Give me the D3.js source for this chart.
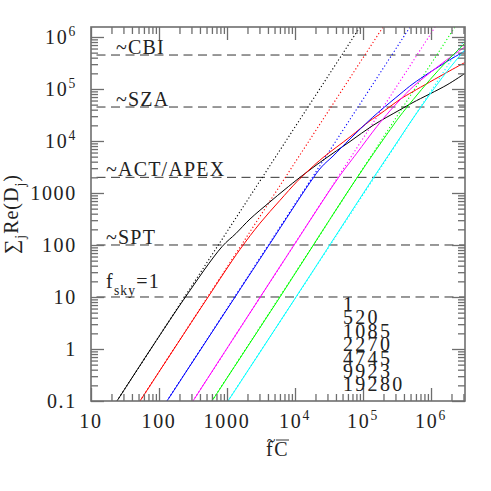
<!DOCTYPE html>
<html><head><meta charset="utf-8">
<script src="https://cdn.jsdelivr.net/npm/d3@7"></script>
<style>body{margin:0;background:#fff}</style>
</head><body>
<svg id="chart" width="491" height="491"></svg>
<script>
// ---- data ----
const xDomain = [10, 3.16e6];
const yDomain = [0.1, 1.556e6];
const xMajorTicks = [10, 100, 1000, 1e4, 1e5, 1e6];
const xTickLabels = ["10", "100", "1000", "10^{4}", "10^{5}", "10^{6}"];
const yMajorTicks = [0.1, 1, 10, 100, 1000, 1e4, 1e5, 1e6];
const yTickLabels = ["0.1", "1", "10", "100", "1000", "10^{4}", "10^{5}", "10^{6}"];

const refLevels = [4.5e5, 4.5e4, 2000, 100, 10];
const refLabels = ["~CBI", "~SZA", "~ACT/APEX", "~SPT", "f_{sky}=1"];

const legendLabels = ["1", "520", "1085", "2270", "4745", "9923", "19280"];

const curveNames = ["black", "red", "blue", "magenta", "green", "cyan"];
const curveColors = ["#000000", "#ff0000", "#0000ff", "#ff00ff", "#00ff00", "#00ffff"];

const solidBlack = [[24.1,0.1],[225,8.5],[845,93],[1350,166],[2180,316],[4290,676],[7130,1175],[11850,2000],[25800,4270],[64400,9770],[140000,19950],[350000,39800],[543000,55000],[1.72e6,120000],[3.16e6,200000]];
const solidRed = [[52.6,0.1],[508,9.3],[1550,82],[3060,263],[6020,724],[10700,1660],[16600,2880],[25800,4790],[64400,12000],[127000,24500],[178000,33100],[350000,63100],[543000,89100],[1.72e6,209000],[3.16e6,324000]];
const solidBlue = [[131,0.1],[4010,93],[16600,1585],[24500,3160],[36200,5130],[64400,10960],[127000,25700],[178000,38000],[350000,79400],[543000,126000],[1.72e6,339000],[3.16e6,537000]];
const solidMagenta = [[316,0.1],[8930,85],[42900,1920],[80700,5790],[159000,18800],[249000,38000],[350000,61700],[550000,112000],[1.70e6,363000],[3.16e6,646000]];
const solidGreen = [[601,0.1],[6010,10],[80700,1920],[296000,22400],[350000,30200],[550000,63100],[966000,151000],[1.70e6,339000],[3.16e6,759000]];
const solidCyan = [[1035,0.1],[10350,10],[134000,1740],[350000,11500],[491000,22400],[966000,79400],[1.70e6,214000],[3.16e6,575000]];

const dotBlack = [[24.1,0.1],[90300,1.556e6]];
const dotRed = [[52.6,0.1],[197000,1.556e6]];
const dotBlue = [[131,0.1],[491000,1.556e6]];
const dotMagenta = [[316,0.1],[1.15e6,1.556e6]];
const dotGreen = [[601,0.1],[2.25e6,1.556e6]];
const dotCyan = [[1035,0.1],[3.16e6,910000]];

const solidSeries = [solidBlack, solidRed, solidBlue, solidMagenta, solidGreen, solidCyan];
const dottedSeries = [dotBlack, dotRed, dotBlue, dotMagenta, dotGreen, dotCyan];

// ---- layout ----
const W = 491, H = 491;
const m = {left: 91, top: 27, right: 26, bottom: 90};
const FONT = "'Liberation Serif', 'Times New Roman', serif";
const FS = 20;
const TEXT = "#222";
const AX = "#6e6e6e";

const svg = d3.select("#chart");
svg.append("rect").attr("width", W).attr("height", H).attr("fill", "#fff");

const x = d3.scaleLog().domain(xDomain).range([m.left, W - m.right]);
const y = d3.scaleLog().domain(yDomain).range([H - m.bottom, m.top]);

function minorTicks(domain) {
  const out = [];
  const lo = Math.floor(Math.log10(domain[0])), hi = Math.ceil(Math.log10(domain[1]));
  for (let e = lo; e <= hi; e++) for (let k = 2; k <= 9; k++) {
    const v = k * Math.pow(10, e);
    if (v > domain[0] * 1.0001 && v < domain[1] * 0.9999) out.push(v);
  }
  return out;
}

// rich text: ^{..} superscript, _{..} subscript
function rich(sel, str, size) {
  const re = /([\^_])\{([^}]*)\}/g;
  let last = 0, mm, cur = 0;
  const add = (txt, target, fs) => {
    const t = sel.append("tspan").attr("dy", target - cur).text(txt);
    if (fs) t.attr("font-size", fs);
    cur = target;
  };
  while ((mm = re.exec(str))) {
    if (mm.index > last) add(str.slice(last, mm.index), 0);
    const target = mm[1] === "^" ? -0.42 * size : 0.36 * size;
    add(mm[2], target, size * 0.68);
    last = re.lastIndex;
  }
  if (last < str.length) add(str.slice(last), 0);
  else if (cur !== 0) add("", 0);
}

const clipId = "plotclip";
svg.append("clipPath").attr("id", clipId).append("rect")
  .attr("x", m.left).attr("y", m.top)
  .attr("width", W - m.left - m.right).attr("height", H - m.top - m.bottom);

// ---- reference dashed lines ----
const refG = svg.append("g");
refLevels.forEach((v, i) => {
  refG.append("line")
    .attr("x1", x(xDomain[0])).attr("x2", x(xDomain[1]))
    .attr("y1", y(v)).attr("y2", y(v))
    .attr("stroke", "#333").attr("stroke-width", 1)
    .attr("stroke-dasharray", "9,5.5").attr("stroke-dashoffset", 9);
  const lx = (i < 2) ? 116 : 106;
  const t = refG.append("text")
    .attr("x", lx).attr("y", y(v) - (i === 4 ? 9 : 1))
    .attr("font-family", FONT).attr("font-size", FS).attr("fill", TEXT)
    .attr("letter-spacing", 1.2);
  rich(t, refLabels[i], FS);
});

// ---- curves ----
const line = d3.line().x(d => x(d[0])).y(d => y(d[1])).curve(d3.curveCatmullRom.alpha(0.5));
const curveG = svg.append("g").attr("clip-path", `url(#${clipId})`);
dottedSeries.forEach((s, i) => {
  curveG.append("path").datum(s).attr("d", line)
    .attr("fill", "none").attr("stroke", curveColors[i])
    .attr("stroke-width", 1.1).attr("stroke-dasharray", "1.2,2.3");
});
solidSeries.forEach((s, i) => {
  curveG.append("path").datum(s).attr("d", line)
    .attr("fill", "none").attr("stroke", curveColors[i])
    .attr("stroke-width", 1);
});

// ---- axes ----
const xMinor = minorTicks(xDomain), yMinor = minorTicks(yDomain);
function styleAxis(g) {
  g.select(".domain").remove();
  g.selectAll(".tick line").attr("stroke", AX).attr("stroke-width", 1.3);
}
const pB = H - m.bottom, pT = m.top, pL = m.left, pR = W - m.right;

svg.append("g").attr("transform", `translate(0,${pB})`)
  .call(d3.axisBottom(x).tickValues(xMajorTicks).tickSize(-13).tickSizeOuter(0).tickFormat("")).call(styleAxis);
svg.append("g").attr("transform", `translate(0,${pB})`)
  .call(d3.axisBottom(x).tickValues(xMinor).tickSize(-7).tickSizeOuter(0).tickFormat("")).call(styleAxis);
svg.append("g").attr("transform", `translate(0,${pT})`)
  .call(d3.axisTop(x).tickValues(xMajorTicks).tickSize(-13).tickSizeOuter(0).tickFormat("")).call(styleAxis);
svg.append("g").attr("transform", `translate(0,${pT})`)
  .call(d3.axisTop(x).tickValues(xMinor).tickSize(-7).tickSizeOuter(0).tickFormat("")).call(styleAxis);
svg.append("g").attr("transform", `translate(${pL},0)`)
  .call(d3.axisLeft(y).tickValues(yMajorTicks).tickSize(-13).tickSizeOuter(0).tickFormat("")).call(styleAxis);
svg.append("g").attr("transform", `translate(${pL},0)`)
  .call(d3.axisLeft(y).tickValues(yMinor).tickSize(-7).tickSizeOuter(0).tickFormat("")).call(styleAxis);
svg.append("g").attr("transform", `translate(${pR},0)`)
  .call(d3.axisRight(y).tickValues(yMajorTicks).tickSize(-13).tickSizeOuter(0).tickFormat("")).call(styleAxis);
svg.append("g").attr("transform", `translate(${pR},0)`)
  .call(d3.axisRight(y).tickValues(yMinor).tickSize(-7).tickSizeOuter(0).tickFormat("")).call(styleAxis);

svg.append("rect").attr("x", pL).attr("y", pT)
  .attr("width", pR - pL).attr("height", pB - pT)
  .attr("fill", "none").attr("stroke", AX).attr("stroke-width", 1.6);

// tick labels
xMajorTicks.forEach((v, i) => {
  const t = svg.append("text").attr("x", x(v)).attr("y", pB + 27)
    .attr("text-anchor", "middle").attr("font-family", FONT).attr("font-size", FS)
    .attr("fill", TEXT).attr("letter-spacing", 1.7);
  rich(t, xTickLabels[i], FS);
});
yMajorTicks.forEach((v, i) => {
  const t = svg.append("text").attr("x", pL - 14).attr("y", y(v) + 7)
    .attr("text-anchor", "end").attr("font-family", FONT).attr("font-size", FS)
    .attr("fill", TEXT).attr("letter-spacing", 1.7);
  rich(t, yTickLabels[i], FS);
});

// axis titles
const yt = svg.append("text")
  .attr("transform", `translate(18,${(pT + pB) / 2}) rotate(-90)`)
  .attr("text-anchor", "middle").attr("font-family", FONT).attr("font-size", FS)
  .attr("fill", TEXT).attr("letter-spacing", 1);
rich(yt, "\u2211_{j}Re(D_{j})", FS);

const xtX = 266, xtY = 456;
svg.append("text").attr("x", xtX).attr("y", xtY)
  .attr("font-family", FONT).attr("font-size", FS).attr("fill", TEXT).attr("letter-spacing", 1.5)
  .text("fC");
svg.append("text").attr("x", xtX + 5).attr("y", xtY - 10).attr("text-anchor", "middle")
  .attr("font-family", FONT).attr("font-size", 16).attr("fill", TEXT).text("~");
svg.append("line").attr("x1", xtX + 10).attr("x2", xtX + 23)
  .attr("y1", xtY - 16).attr("y2", xtY - 16).attr("stroke", TEXT).attr("stroke-width", 0.9);

// legend labels
legendLabels.forEach((s, i) => {
  svg.append("text").attr("x", 343).attr("y", 311 + i * 13.4)
    .attr("font-family", FONT).attr("font-size", FS).attr("fill", TEXT)
    .attr("letter-spacing", 2.3).text(s);
});
</script>
</body></html>
